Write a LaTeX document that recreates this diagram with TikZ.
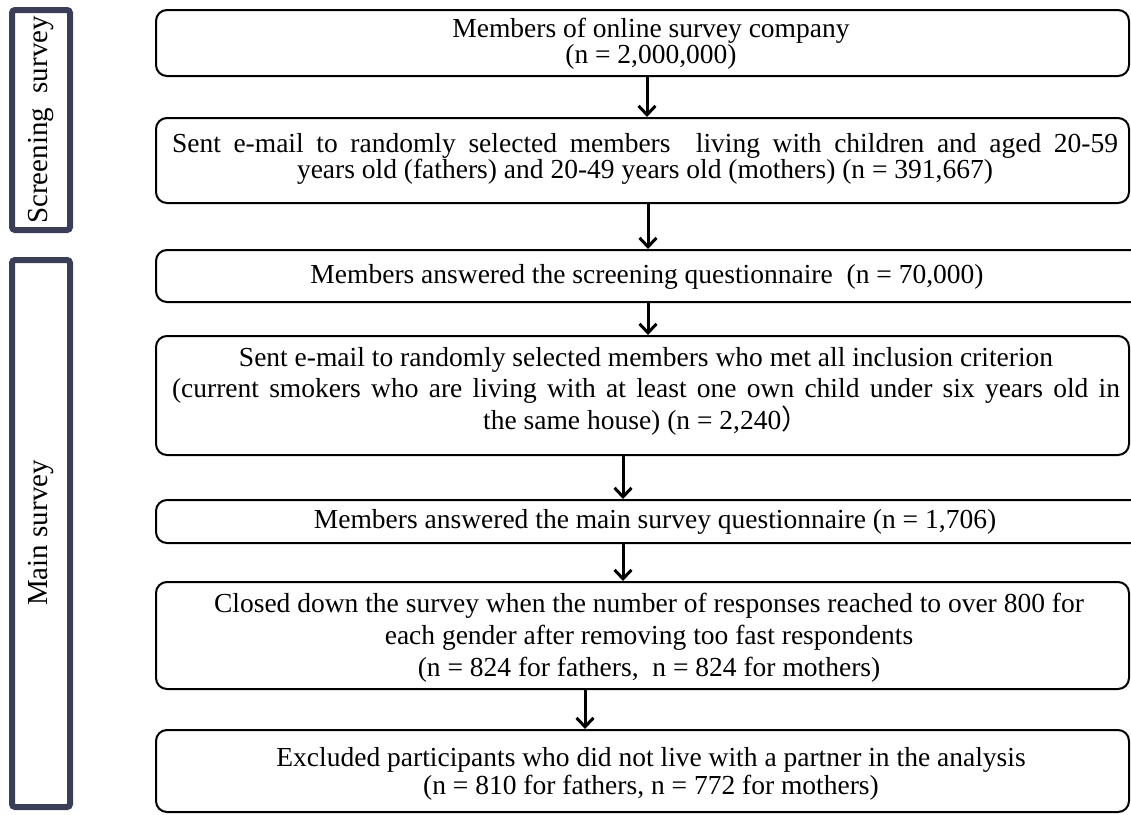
\documentclass[tikz,border=0pt]{standalone}
\usepackage{fontspec}
\setmainfont{Liberation Serif}
\newfontfamily\cjkfont{Noto Sans CJK JP}
\usetikzlibrary{arrows.meta}
\definecolor{barc}{HTML}{3A3F57}
\tikzset{
  box/.style={draw=black, line width=2pt, rounded corners=11pt, inner sep=0pt},
  txt/.style={align=center, inner sep=0pt},
  arr/.style={line width=3pt, -{Straight Barb[length=9pt,width=17pt,line width=3pt]}},
  sidebar/.style={draw=barc, line width=6pt, rounded corners=3pt, inner sep=0pt},
}
\newcommand{\fs}[1]{\fontsize{27.5}{#1}\selectfont}
\begin{document}
\begin{tikzpicture}[x=1pt,y=-1pt]
\useasboundingbox (0,0) rectangle (1131,814);
% side bars
\node[sidebar, minimum width=58pt, minimum height=220pt] (s1) at (41,120) {};
\node[sidebar, minimum width=58pt, minimum height=547pt] (s2) at (41,533.5) {};
\node[txt, rotate=90, font=\fontsize{29}{30}\selectfont] (s1t) at (41,120) {Screening\ \ survey};
\node[txt, rotate=90, font=\fontsize{29}{30}\selectfont] (s2t) at (41,533) {Main survey};
% boxes
\node[box, minimum width=973pt, minimum height=66pt] (b1) at (642.5,43) {};
\node[box, minimum width=973pt, minimum height=85pt] (b2) at (642.5,160.5) {};
\node[box, minimum width=989pt, minimum height=52pt] (b3) at (650.5,276) {};
\node[box, minimum width=973pt, minimum height=119pt] (b4) at (642.5,395.5) {};
\node[box, minimum width=989pt, minimum height=43pt] (b5) at (650.5,521.5) {};
\node[box, minimum width=973pt, minimum height=107pt] (b6) at (642.5,635.5) {};
\node[box, minimum width=973pt, minimum height=82pt] (b7) at (642.5,771) {};
% texts
\node[txt, font=\fs{26}] (t1) at (651,44) {Members of online survey company\\(n = 2,000,000)};
\node[txt, font=\fs{26}] (t2) at (645,159) {\makebox[946pt][s]{Sent e-mail to randomly selected members\ \ living with children and aged 20-59}\\years old (fathers) and 20-49 years old (mothers) (n = 391,667)};
\node[txt, font=\fs{26}] (t3) at (647,277) {Members answered the screening questionnaire\ \ (n = 70,000)};
\node[txt, font=\fs{31.5}] (t4) at (646,391) {Sent e-mail to randomly selected members who met all inclusion criterion\\\makebox[948pt][s]{(current smokers who are living with at least one own child under six years old in}\\the same house) (n = 2,240{\cjkfont ）}};
\node[txt, font=\fs{26}] (t5) at (655,522) {Members answered the main survey questionnaire (n = 1,706)};
\node[txt, font=\fs{32}] (t6) at (649,638) {Closed down the survey when the number of responses reached to over 800 for\\each gender after removing too fast respondents\\(n = 824 for fathers,\ \ n = 824 for mothers)};
\node[txt, font=\fs{28}] (t7) at (651,774) {Excluded participants who did not live with a partner in the analysis\\(n = 810 for fathers, n = 772 for mothers)};
% arrows
\draw[arr] (b1.south -| 647,0) -- (b2.north -| 647,0);
\draw[arr] (b2.south -| 648,0) -- (b3.north -| 648,0);
\draw[arr] (b3.south -| 648,0) -- (b4.north -| 648,0);
\draw[arr] (b4.south -| 623,0) -- (b5.north -| 623,0);
\draw[arr] (b5.south -| 623,0) -- (b6.north -| 623,0);
\draw[arr] (b6.south -| 585,0) -- (b7.north -| 585,0);
\end{tikzpicture}
\end{document}
